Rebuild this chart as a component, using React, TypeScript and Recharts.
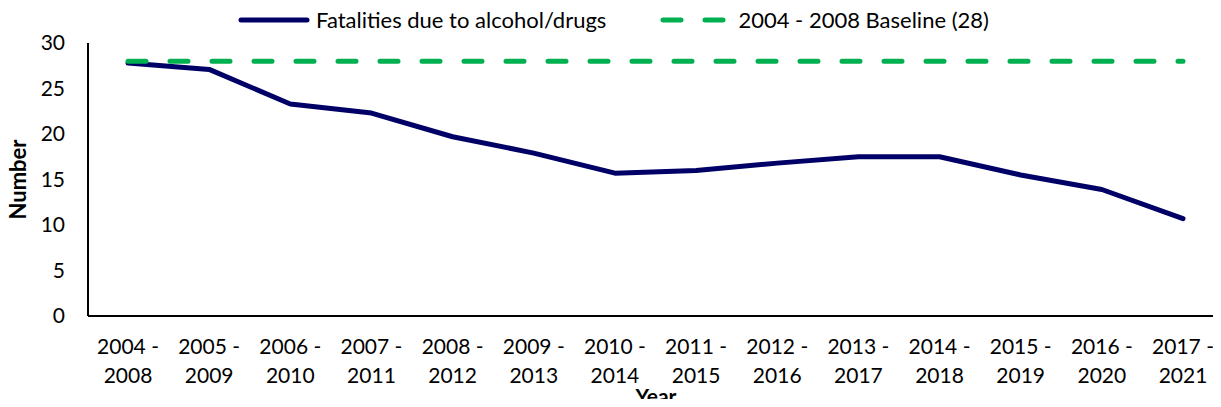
import { Legend, Line, LineChart, XAxis, YAxis } from "recharts";

const periods = [
  "2004 - 2008",
  "2005 - 2009",
  "2006 - 2010",
  "2007 - 2011",
  "2008 - 2012",
  "2009 - 2013",
  "2010 - 2014",
  "2011 - 2015",
  "2012 - 2016",
  "2013 - 2017",
  "2014 - 2018",
  "2015 - 2019",
  "2016 - 2020",
  "2017 - 2021",
];

const fatalities = [27.8, 27.1, 23.3, 22.3, 19.7, 17.9, 15.7, 16.0, 16.8, 17.5, 17.5, 15.5, 13.9, 10.7];
const baseline = [28, 28, 28, 28, 28, 28, 28, 28, 28, 28, 28, 28, 28, 28];
const yTicks = [0, 5, 10, 15, 20, 25, 30];
const legendOrder = ["Fatalities due to alcohol/drugs", "2004 - 2008 Baseline (28)"];

const data = periods.map((period, i) => ({
  period,
  fatalities: fatalities[i],
  baseline: baseline[i],
}));

const FONT = "Lato, 'Open Sans', sans-serif";
const NAVY = "#000066";
const GREEN = "#00B050";

function PeriodTick(props: any) {
  const { x, y, payload } = props;
  const [a, b] = String(payload.value).split(" - ");
  return (
    <text x={x} y={y} textAnchor="middle" fill="#000" fontSize={21} fontFamily={FONT}>
      <tspan x={x} dy={30}>{a} -</tspan>
      <tspan x={x} dy={29}>{b}</tspan>
    </text>
  );
}

function YearLabel(props: any) {
  const { viewBox } = props;
  const cx = viewBox.x + viewBox.width / 2;
  return (
    <text x={cx} y={404} textAnchor="middle" fill="#000" fontSize={21} fontWeight={700} fontFamily={FONT}>
      Year
    </text>
  );
}

function renderLegend(props: any) {
  const items = [...(props.payload || [])].sort(
    (p: any, q: any) => legendOrder.indexOf(p.value) - legendOrder.indexOf(q.value)
  );
  return (
    <div style={{ display: "flex", alignItems: "center", fontFamily: FONT, fontSize: 22, color: "#000", whiteSpace: "nowrap" }}>
      {items.map((item: any, i: number) => (
        <div key={i} style={{ display: "flex", alignItems: "center", marginRight: i === 0 ? 54 : 0 }}>
          <svg width={72} height={10} style={{ marginRight: 6 }}>
            {item.payload.strokeDasharray ? (
              <line x1={3} y1={5} x2={69} y2={5} stroke={item.color} strokeWidth={5} strokeLinecap="round" strokeDasharray="18 24" />
            ) : (
              <line x1={3} y1={5} x2={69} y2={5} stroke={item.color} strokeWidth={5} strokeLinecap="round" />
            )}
          </svg>
          <span>{item.value}</span>
        </div>
      ))}
    </div>
  );
}

export default function App() {
  return (
    <div style={{ margin: -8, width: 1221, height: 407, overflow: "hidden", background: "#fff" }}>
      <LineChart
        width={1224}
        height={407}
        data={data}
        margin={{ top: 43, right: 0, bottom: 0, left: 0 }}
      >
        <Legend
          verticalAlign="middle"
          align="center"
          content={renderLegend}
          wrapperStyle={{ position: "absolute", top: 6, left: 238, width: "auto" }}
        />
        <XAxis
          dataKey="period"
          height={91}
          interval={0}
          padding={{ left: 40, right: 41 }}
          axisLine={{ stroke: "#000", strokeWidth: 2 }}
          tickLine={false}
          tick={<PeriodTick />}
          label={<YearLabel />}
        />
        <YAxis
          width={88}
          domain={[0, 30]}
          ticks={yTicks}
          interval={0}
          axisLine={{ stroke: "#000", strokeWidth: 2 }}
          tickLine={false}
          tickMargin={17}
          tick={{ fill: "#000", fontSize: 21, fontFamily: FONT }}
          label={{
            value: "Number",
            angle: -90,
            position: "insideLeft",
            offset: 18,
            fill: "#000",
            fontSize: 22,
            fontWeight: 700,
            fontFamily: FONT,
            style: { textAnchor: "middle" },
          }}
        />
        <Line
          name="Fatalities due to alcohol/drugs"
          dataKey="fatalities"
          stroke={NAVY}
          strokeWidth={5}
          strokeLinecap="round"
          strokeLinejoin="round"
          dot={false}
          activeDot={false}
          isAnimationActive={false}
        />
        <Line
          name="2004 - 2008 Baseline (28)"
          dataKey="baseline"
          stroke={GREEN}
          strokeWidth={5}
          strokeLinecap="round"
          strokeDasharray="18 24"
          dot={false}
          activeDot={false}
          isAnimationActive={false}
        />
      </LineChart>
    </div>
  );
}
